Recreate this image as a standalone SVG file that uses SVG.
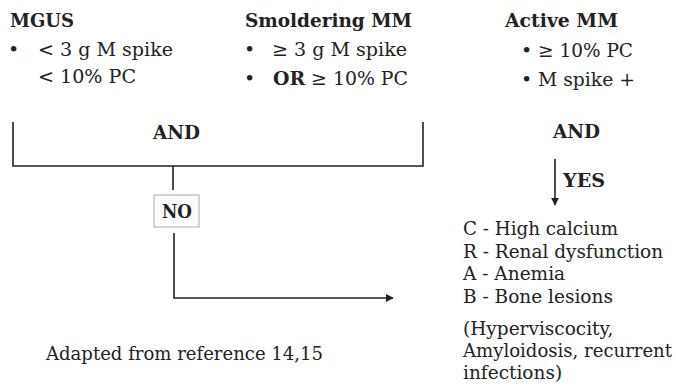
<svg xmlns="http://www.w3.org/2000/svg" width="676" height="386" viewBox="0 0 676 386">
<style>
text{font-family:"DejaVu Serif","Liberation Serif",serif;fill:#222}
.t{font-size:19px}
.b{font-size:18px;font-weight:bold}
.s{font-size:18.5px}
.r{font-size:18.5px}
.ln{stroke:#222;stroke-width:1.6;fill:none}
</style>
<defs>
<marker id="ah" viewBox="0 0 10 10" refX="9" refY="5" markerWidth="5" markerHeight="5" orient="auto"><path d="M0,0L10,5L0,10z" fill="#222"/></marker>
</defs>
<rect width="676" height="386" fill="#fff"/>
<g id="mgus">
<text class="b" x="10" y="27" textLength="64" lengthAdjust="spacingAndGlyphs">MGUS</text>
<text class="t" x="8" y="56">•</text>
<text class="t" x="38" y="56" textLength="135" lengthAdjust="spacingAndGlyphs">&lt; 3 g M spike</text>
<text class="t" x="38" y="83" textLength="98" lengthAdjust="spacingAndGlyphs">&lt; 10% PC</text>
</g>
<g id="smoldering">
<text class="b" x="245" y="27" textLength="167" lengthAdjust="spacingAndGlyphs">Smoldering MM</text>
<text class="t" x="244" y="56">•</text>
<text class="t" x="272" y="56" textLength="135" lengthAdjust="spacingAndGlyphs">≥ 3 g M spike</text>
<text class="t" x="244" y="85">•</text>
<text class="t" x="273" y="85" textLength="135" lengthAdjust="spacingAndGlyphs"><tspan font-weight="bold">OR</tspan> ≥ 10% PC</text>
</g>
<g id="active">
<text class="b" x="505" y="27" textLength="113" lengthAdjust="spacingAndGlyphs">Active MM</text>
<text class="t" x="521" y="57">•</text>
<text class="t" x="538" y="57" textLength="95" lengthAdjust="spacingAndGlyphs">≥ 10% PC</text>
<text class="t" x="521" y="86">•</text>
<text class="t" x="538" y="86" textLength="97" lengthAdjust="spacingAndGlyphs">M spike +</text>
</g>
<g id="and-left"><text class="b" x="153" y="139" textLength="47" lengthAdjust="spacingAndGlyphs">AND</text></g>
<g id="and-right"><text class="b" x="553" y="138" textLength="47" lengthAdjust="spacingAndGlyphs">AND</text></g>
<g id="no">
<rect x="154" y="195" width="45" height="32" fill="#fbfbfb" stroke="#aaa" stroke-width="1"/>
<text class="b" x="162" y="218" font-size="15" textLength="30" lengthAdjust="spacingAndGlyphs">NO</text>
</g>
<g id="yes"><text class="b" x="563" y="187" font-size="16" textLength="42" lengthAdjust="spacingAndGlyphs">YES</text></g>
<g id="crab">
<text class="s" x="463" y="235" textLength="155" lengthAdjust="spacingAndGlyphs">C - High calcium</text>
<text class="s" x="463" y="258" textLength="200" lengthAdjust="spacingAndGlyphs">R - Renal dysfunction</text>
<text class="s" x="463" y="280">A - Anemia</text>
<text class="s" x="463" y="303">B - Bone lesions</text>
</g>
<g id="other">
<text class="r" x="463" y="335">(Hyperviscocity,</text>
<text class="r" x="463" y="357" textLength="209" lengthAdjust="spacingAndGlyphs">Amyloidosis, recurrent</text>
<text class="r" x="463" y="379">infections)</text>
</g>
<g id="note"><text class="r" x="46" y="360" textLength="277" lengthAdjust="spacingAndGlyphs">Adapted from reference  14,15</text></g>
<g id="connectors">
<path class="ln" d="M13,122V166H423V122"/>
<path class="ln" d="M173,166V190"/>
<path class="ln" d="M174,233V298H393" marker-end="url(#ah)"/>
<path class="ln" d="M555,159V205" marker-end="url(#ah)"/>
</g>
</svg>
